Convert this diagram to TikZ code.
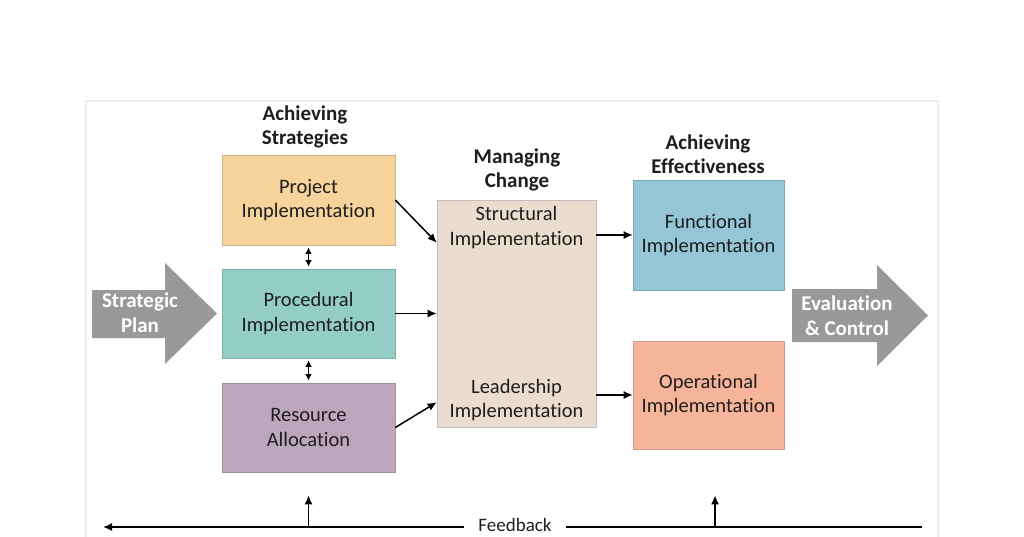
\documentclass[tikz,border=0pt]{standalone}
\usepackage{fontspec}
\setmainfont{Carlito}[Ligatures=NoCommon]
\usepackage{tikz}
\usetikzlibrary{positioning, arrows.meta, calc}
\usepackage{xcolor}

\definecolor{projcol}{RGB}{245,211,155}
\definecolor{proccol}{RGB}{147,205,197}
\definecolor{rescol}{RGB}{188,166,189}
\definecolor{changecol}{RGB}{234,221,208}
\definecolor{funccol}{RGB}{148,198,216}
\definecolor{opercol}{RGB}{246,181,155}
\definecolor{arrowgray}{RGB}{153,153,153}
\definecolor{ink}{RGB}{30,30,30}

\tikzset{
  box/.style={draw=#1!85!black, fill=#1, line width=0.6pt, align=center,
    text=ink, font=\fontsize{20.5}{24.5}\selectfont},
  head/.style={align=center, text=ink, font=\bfseries\fontsize{21}{24}\selectfont},
  plain/.style={align=center, text=ink, font=\fontsize{20.5}{24.5}\selectfont},
  bigtext/.style={align=center, text=white, font=\bfseries\fontsize{21}{25}\selectfont},
  link/.style={-{Latex[length=9pt,width=8pt]}, line width=1.5pt, draw=black},
  twoway/.style={{Latex[length=6.5pt,width=6.5pt]}-{Latex[length=6.5pt,width=6.5pt]}, line width=1.5pt,
    shorten <=2pt, shorten >=2pt},
}

\begin{document}
\begin{tikzpicture}[x=1pt, y=-1pt]
\useasboundingbox (0,0) rectangle (1024,536);
% panel
\draw[black!7, line width=1.5pt, fill=white] (86,101) rectangle (938,570);

% left column
\node[box=projcol, minimum width=173pt, minimum height=90pt] (proj) at (308.5,200) {Project\\Implementation};
\node[box=proccol, minimum width=173pt, minimum height=89pt] (proc) at (308.5,313.5) {Procedural\\Implementation};
\node[box=rescol, minimum width=173pt, minimum height=89pt] (res) at (308.5,427.5) {Resource\\Allocation};
\node[head] (hstrat) at (305,127) {Achieving\\Strategies};

% middle column
\node[box=changecol, draw=black!25, minimum width=159pt, minimum height=227pt] (change) at (516.5,313.5) {};
\node[plain] (struct) at (516.5,227.5) {Structural\\Implementation};
\node[plain] (lead) at (516.5,400) {Leadership\\Implementation};
\node[head] (hchange) at (517,170) {Managing\\Change};

% right column
\node[box=funccol, minimum width=151pt, minimum height=110pt] (func) at (708.5,235) {Functional\\Implementation};
\node[box=opercol, minimum width=151pt, minimum height=108pt] (oper) at (708.5,395) {Operational\\Implementation};
\node[head] (heffect) at (708,154.5) {Achieving\\Effectiveness};

% block arrows
\fill[arrowgray] (92,290) -- (165,290) -- (165,263) -- (217,313.5) -- (165,364) -- (165,338) -- (92,338) -- cycle;
\node[bigtext] (plan) at (140,313) {Strategic\\Plan};
\fill[arrowgray] (792,289) -- (877,289) -- (877,265) -- (928,315.5) -- (877,366) -- (877,342) -- (792,342) -- cycle;
\node[bigtext] (eval) at (847,315.5) {Evaluation\\\&~Control};

% connectors
\draw[twoway] (proj.south) -- (proc.north);
\draw[twoway] (proc.south) -- (res.north);
\draw[link] (proj.east) -- ($(change.north west)+(0,43)$);
\draw[link] (proc.east) -- (change.west |- proc.east);
\draw[link] (res.east) -- ($(change.south west)+(0,-25)$);
\draw[link] (change.east |- func.west) -- (func.west);
\draw[link] (change.east |- oper.west) -- (oper.west);

% feedback
\node[plain, inner xsep=14pt, inner ysep=1pt, font=\fontsize{19}{22}\selectfont] (fb) at (515,525) {Feedback};
\coordinate (fbleft) at (103,527);
\coordinate (fbright) at (922,527);
\draw[link] (fb.west |- fbleft) -- (fbleft);
\draw[line width=1.5pt] (fb.east |- fbright) -- (fbright);
\draw[link, shorten >=23pt] (res.south |- fbleft) -- (res.south);
\draw[link, shorten >=46pt] ([xshift=6.5pt]oper.south |- fbleft) -- ([xshift=6.5pt]oper.south);
\end{tikzpicture}
\end{document}
